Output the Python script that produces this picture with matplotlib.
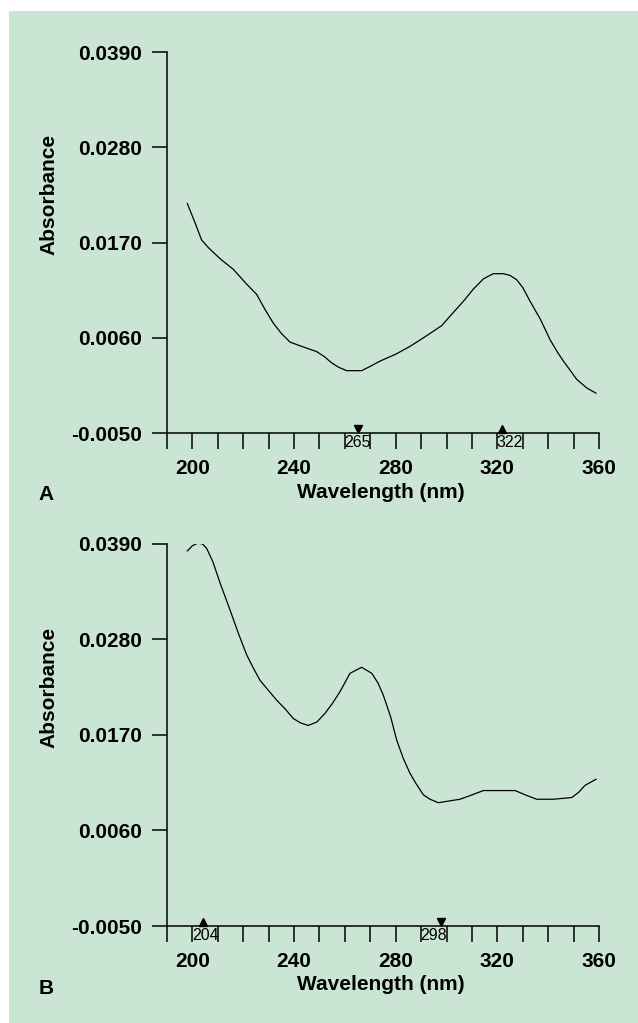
import matplotlib
matplotlib.use("Agg")
import matplotlib.pyplot as plt
import matplotlib.transforms as mtransforms
from matplotlib.patches import Rectangle

# panel A spectrum
wl_a = [198, 201, 203.6, 206.3, 211, 216.1, 221, 225.3, 228.5, 231.8, 235, 238.4, 243, 248.9,
        252, 254.8, 257.5, 260.7, 266.6, 270, 273.8, 280, 285.6, 292, 298.1, 302, 306.6, 310.5,
        314.5, 318.4, 322.4, 325, 327.6, 330, 332.9, 337, 340.7, 343.5, 346, 349, 351.2, 355.2, 358.8]
abs_a = [0.0215, 0.0193, 0.0173, 0.0164, 0.0151, 0.0139, 0.0123, 0.0110, 0.0093, 0.0077, 0.0065,
         0.0055, 0.0050, 0.0044, 0.0038, 0.0031, 0.0026, 0.0022, 0.0022, 0.0027, 0.0033, 0.0041,
         0.0050, 0.0062, 0.0074, 0.0087, 0.0102, 0.0116, 0.0128, 0.0134, 0.0134, 0.0132, 0.0127,
         0.0118, 0.0102, 0.0081, 0.0058, 0.0044, 0.0033, 0.0021, 0.0012, 0.0002, -0.0004]

# panel B spectrum
wl_b = [198, 200, 202.1, 204, 205.6, 208, 210.9, 214.8, 218.1, 221.4, 224, 226.6, 230, 233.2,
        236.5, 239.7, 242.5, 245.6, 249, 252.2, 255, 258.1, 262.0, 266.6, 270.6, 273, 275.1, 278,
        280.4, 283, 285.6, 288, 290.9, 293.5, 296.8, 301, 305.3, 310, 314.5, 320, 327.0, 331,
        335.5, 342.0, 349.3, 352, 354.5, 358.8]
abs_b = [0.0382, 0.0388, 0.0391, 0.0390, 0.0385, 0.0370, 0.0345, 0.0314, 0.0287, 0.0262, 0.0247,
         0.0233, 0.0221, 0.0210, 0.0200, 0.0189, 0.0184, 0.0181, 0.0185, 0.0195, 0.0206, 0.0220,
         0.0241, 0.0248, 0.0241, 0.0230, 0.0216, 0.0191, 0.0164, 0.0143, 0.0126, 0.0114, 0.0101,
         0.0096, 0.0092, 0.0094, 0.0096, 0.0101, 0.0106, 0.0106, 0.0106, 0.0101, 0.0096, 0.0096,
         0.0098, 0.0104, 0.0112, 0.0119]

# marked wavelengths: (value, 'max' or 'min')
peaks_a = [(265, 'min'), (322, 'max')]
peaks_b = [(204, 'max'), (298, 'min')]

y_ticks = [-0.0050, 0.0060, 0.0170, 0.0280, 0.0390]
x_minor = list(range(190, 361, 10))
x_labeled = [200, 240, 280, 320, 360]

W, H = 638, 1023
bg = '#cbe5d5'
font = ['Liberation Sans', 'DejaVu Sans']
narrow = ['Liberation Sans Narrow', 'Liberation Sans', 'DejaVu Sans']

fig = plt.figure(figsize=(W / 100, H / 100), dpi=100)
fig.patch.set_facecolor('white')
fig.patches.append(Rectangle((9 / W, -0.01), 1, 1.01 - 11 / H, transform=fig.transFigure,
                             facecolor=bg, edgecolor='none', zorder=-10))


def panel(top, bottom, wl, ab, peaks, letter):
    ax = fig.add_axes([167 / W, 1 - bottom / H, (599 - 167) / W, (bottom - top) / H])
    ax.set_facecolor('none')
    ax.plot(wl, ab, color='black', lw=0.9)
    ax.set_xlim(190, 360)
    ax.set_ylim(-0.005, 0.039)
    for s in ['top', 'right']:
        ax.spines[s].set_visible(False)
    for s in ['left', 'bottom']:
        ax.spines[s].set_linewidth(1.1)
    ax.set_xticks(x_minor)
    ax.set_xticklabels([str(v) if v in x_labeled else '' for v in x_minor])
    ax.set_yticks(y_ticks)
    ax.set_yticklabels(['%.4f' % v for v in y_ticks])
    ax.tick_params(axis='x', length=11.5, width=1.1, pad=7.5, labelsize=15)
    ax.tick_params(axis='y', length=10.8, width=1.1, pad=7, labelsize=15)
    for lab in ax.get_xticklabels() + ax.get_yticklabels():
        lab.set_family(font)
        lab.set_fontweight('bold')

    up = mtransforms.offset_copy(ax.transData, fig=fig, x=0, y=3.2, units='points')
    down = mtransforms.offset_copy(ax.transData, fig=fig, x=0, y=-6.8, units='points')
    for v, kind in peaks:
        ax.plot([v], [-0.005], marker='v' if kind == 'min' else '^', color='black',
                markersize=6, transform=up, clip_on=False, linestyle='none')
        cell = (v // 10) * 10 + 5
        ax.text(cell, -0.005, str(v), transform=down, ha='center', va='center',
                fontsize=11.5, family=narrow)

    mid = (top + bottom) / 2
    fig.text(49 / W, 1 - (mid - 48) / H, 'Absorbance', rotation=90, ha='center', va='center',
             fontsize=15, fontweight='bold', family=font)
    fig.text(381 / W, 1 - (bottom + 59) / H, 'Wavelength (nm)', ha='center', va='center',
             fontsize=15, fontweight='bold', family=font)
    fig.text(46 / W, 1 - (bottom + 62) / H, letter, ha='center', va='center',
             fontsize=15, fontweight='bold', family=font)
    return ax


panel(52, 433, wl_a, abs_a, peaks_a, 'A')
panel(544, 926, wl_b, abs_b, peaks_b, 'B')

fig.savefig('out.png', dpi=100, facecolor=fig.get_facecolor())
